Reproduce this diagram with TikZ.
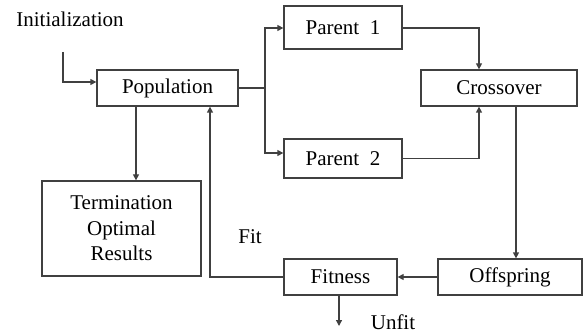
\documentclass[tikz,border=0pt]{standalone}
\usepackage{fontspec}
\setmainfont{Liberation Serif}
\usetikzlibrary{arrows.meta}
\begin{document}
\begin{tikzpicture}[x=1pt,y=-1pt,
  box/.style={draw=black!75,line width=1.3pt,inner sep=0pt,font=\fontsize{21}{24}\selectfont},
  lbl/.style={font=\fontsize{21}{24}\selectfont,inner sep=0pt},
  conn/.style={draw=black!75,line width=1.3pt,-{Triangle[length=6pt,width=6pt]}},
  plain/.style={draw=black!75,line width=1.3pt}]
\useasboundingbox (0,0) rectangle (585,336);
\node[box,minimum width=141pt,minimum height=36pt] (pop) at (167.5,88) {Population};
\node[box,minimum width=118pt,minimum height=43pt] (p1) at (343,27.5) {Parent\ \ 1};
\node[box,minimum width=118pt,minimum height=39pt] (p2) at (343,158.5) {Parent\ \ 2};
\node[box,minimum width=156pt,minimum height=36pt] (cross) at (499,88) {Crossover};
\node[box,minimum width=144pt,minimum height=36pt] (off) at (510,277) {Offspring};
\node[box,minimum width=113pt,minimum height=36pt] (fit) at (340.5,277) {Fitness};
\node[box,minimum width=159pt,minimum height=95pt,align=center,font=\fontsize{21}{25.5}\selectfont] (term) at (121.5,228.5) {Termination\\Optimal\\Results};
\node[lbl] (init) at (70,19) {Initialization};
\node[lbl] (fitl) at (250,237) {Fit};
\node[lbl] (unfit) at (393,322) {Unfit};
\coordinate (ia) at (63,52);
\coordinate (sp) at (265,88);
\coordinate (ua) at (339,326);
\draw[conn] (ia) |- (pop.west |- 0,82);
\draw[plain] (pop.east) -- (sp);
\draw[conn] (sp) |- (p1.west |- 0,28);
\draw[conn] (sp) |- (p2.west |- 0,153);
\draw[conn] (p1.east |- 0,28) -| (cross.north -| 479,0);
\draw[conn] (p2.east) -| (cross.south -| 479,0);
\draw[conn] (cross.south -| 516,0) -- (off.north -| 516,0);
\draw[conn] (off.west) -- (fit.east);
\draw[conn] (fit.south -| ua) -- (ua);
\draw[conn] (fit.west) -| (pop.south -| 210,0);
\draw[conn] (pop.south -| 136,0) -- (term.north -| 136,0);
\end{tikzpicture}
\end{document}
